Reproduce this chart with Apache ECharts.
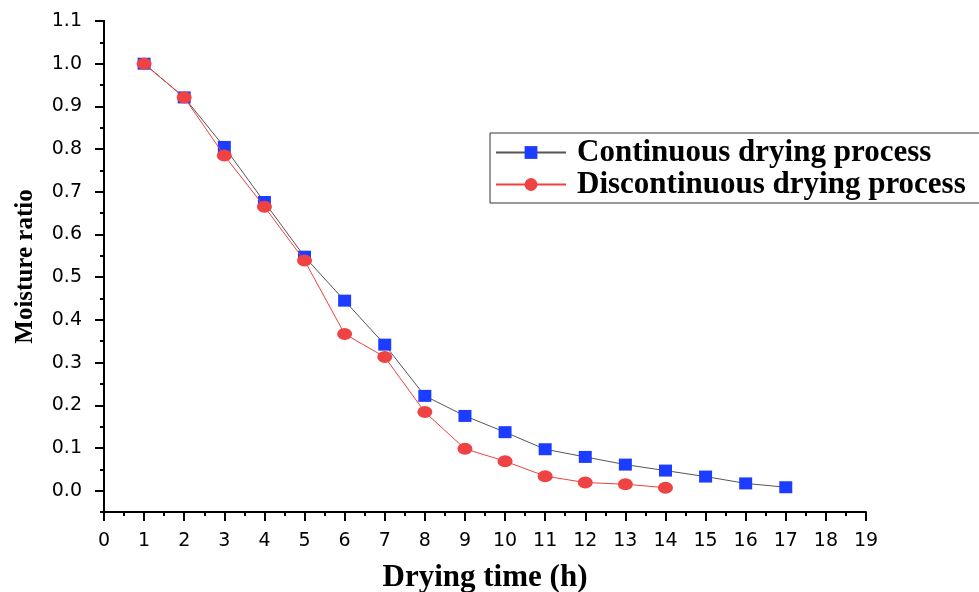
<!DOCTYPE html>
<html>
<head>
<meta charset="utf-8">
<script src="https://cdn.jsdelivr.net/npm/echarts@6/dist/echarts.min.js"></script>
<style>
html,body{margin:0;padding:0;background:#fff;}
#chart{width:979px;height:592px;}
</style>
</head>
<body>
<div id="chart"></div>
<script>
var timeHours = [1,2,3,4,5,6,7,8,9,10,11,12,13,14,15,16,17];
var continuousMR = [1.0,0.921,0.805,0.676,0.548,0.445,0.342,0.222,0.175,0.137,0.097,0.079,0.061,0.047,0.033,0.017,0.008];
var discontinuousMR = [1.0,0.921,0.785,0.665,0.539,0.367,0.313,0.184,0.098,0.069,0.034,0.019,0.015,0.007];
var seriesNames = ['Continuous drying process','Discontinuous drying process'];

function pairs(xs, ys){ return ys.map(function(v,i){ return [xs[i], v]; }); }

var chart = echarts.init(document.getElementById('chart'));
var serif = '"Liberation Serif","Times New Roman",serif';
var sans = '"DejaVu Sans",sans-serif';
var axisBlack = {color:'#000',width:2};
chart.setOption({
  animation:false,
  backgroundColor:'#fff',
  grid:[
    {left:104,right:113,top:21,bottom:80,containLabel:false,outerBoundsMode:'none'},
    {left:104,right:113,top:21,bottom:101.35,containLabel:false,outerBoundsMode:'none'}
  ],
  legend:{
    orient:'vertical',
    left:490, top:133,
    padding:[4,120,3,5],
    itemGap:1,
    itemWidth:70, itemHeight:16,
    borderColor:'#333', borderWidth:1,
    textStyle:{fontFamily:serif,fontWeight:'bold',fontSize:31,color:'#000',padding:[0,0,0,6]},
    data:seriesNames
  },
  xAxis:[
    {
      gridIndex:0, type:'value', min:0, max:19, interval:1,
      name:'Drying time (h)', nameLocation:'middle', nameGap:50,
      nameTextStyle:{fontFamily:serif,fontWeight:'bold',fontSize:31,color:'#000'},
      axisLine:{show:true,onZero:false,lineStyle:axisBlack},
      axisTick:{show:true,length:9,lineStyle:axisBlack},
      minorTick:{show:true,splitNumber:2,length:4,lineStyle:axisBlack},
      axisLabel:{fontFamily:sans,fontSize:19,color:'#000',margin:20},
      splitLine:{show:false}
    },
    {
      gridIndex:1, type:'value', min:0, max:19, show:false
    }
  ],
  yAxis:[
    {
      gridIndex:0, type:'value', min:-0.05, max:1.1, interval:0.05,
      name:'Moisture ratio', nameLocation:'middle', nameGap:66,
      nameTextStyle:{fontFamily:serif,fontWeight:'bold',fontSize:25,color:'#000'},
      axisLine:{show:true,onZero:false,lineStyle:axisBlack},
      axisTick:{show:true,length:4,lineStyle:axisBlack},
      axisLabel:{show:false},
      splitLine:{show:false}
    },
    {
      gridIndex:1, type:'value', min:0, max:1.1, interval:0.1,
      axisLine:{show:true,onZero:false,lineStyle:axisBlack},
      axisTick:{show:true,length:9,lineStyle:axisBlack},
      axisLabel:{fontFamily:sans,fontSize:19,color:'#000',margin:22,
        formatter:function(v){ return v.toFixed(1); }},
      splitLine:{show:false}
    }
  ],
  series:[
    {
      name:seriesNames[0], type:'line', xAxisIndex:0, yAxisIndex:0,
      data:pairs(timeHours, continuousMR),
      symbol:'rect', symbolSize:[13,12],
      itemStyle:{color:'#1c3cff'},
      lineStyle:{color:'#555',width:1},
      z:2
    },
    {
      name:seriesNames[1], type:'line', xAxisIndex:0, yAxisIndex:0,
      data:pairs(timeHours, discontinuousMR),
      symbol:'circle', symbolSize:[15,12],
      itemStyle:{color:'#ef4242'},
      lineStyle:{color:'#f04040',width:1},
      z:3
    }
  ]
});
</script>
</body>
</html>
